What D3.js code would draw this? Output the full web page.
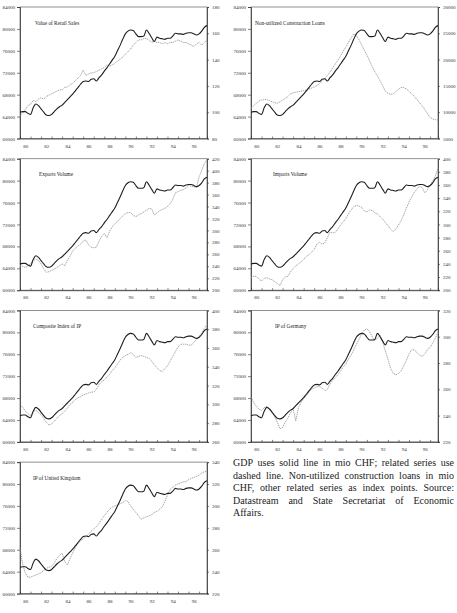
<!DOCTYPE html>
<html>
<head>
<meta charset="utf-8">
<script src="https://cdn.jsdelivr.net/npm/d3@7"></script>
<style>
  body { margin: 0; background: #fff; }
  svg text { font-family: "Liberation Serif", "Times New Roman", serif; fill: #222; }
</style>
</head>
<body>
<div id="chart"></div>
<script>
// DATA
// ---------------------------------------------------------------------------------------------------------------------------------
const quarters = d3.range(1980, 1998, 0.25);           // 1980Q1 .. 1997Q4
const yearTicks = d3.range(1981, 1998);
const yearLabels = [1980, 1982, 1984, 1986, 1988, 1990, 1992, 1994, 1996];
const gdpTicks = [60000, 64000, 68000, 72000, 76000, 80000, 84000];

// GDP in mio CHF (solid line, same in every panel)
const gdp = [64800, 64900, 64900, 64600, 64400, 65600, 66300, 66000, 65400, 64800, 64300, 64200,
  64400, 64900, 65400, 65800, 66100, 66600, 67100, 67600, 68100, 68700, 69300, 69900,
  70400, 70500, 70400, 70800, 70900, 70500, 71100, 71600, 72300, 72900, 73600, 74300,
  75000, 76000, 77000, 78100, 79100, 79600, 79800, 79700, 79100, 78600, 78600, 78700,
  79800, 79200, 78400, 77700, 78500, 78300, 78200, 78100, 78300, 78300, 78700, 79200,
  79100, 79100, 79000, 79200, 79300, 79300, 79100, 78900, 79100, 79600, 80300, 80600];

const retailSales = [97, 99, 102, 105, 106, 109, 108, 110, 111, 110, 112, 113,
  114, 115, 116, 117, 117, 119, 119, 121, 122, 124, 126, 128,
  132, 128, 129, 130, 130, 131, 132, 133, 134, 136, 135, 136,
  137, 139, 140, 142, 144, 146, 148, 151, 153, 155, 155, 156,
  156, 155, 153, 154, 153, 153, 152, 153, 152, 153, 153, 154,
  155, 154, 153, 153, 152, 151, 150, 152, 153, 151, 153, 155];

const constructionLoans = [10800, 11200, 11700, 12100, 12300, 12400, 12400, 12200, 12000, 11800, 11700, 12000,
  12300, 12600, 13000, 13500, 13700, 13800, 13900, 14000, 14100, 14200, 14400, 14600,
  14800, 15100, 15400, 15900, 16400, 17000, 17600, 18400, 19200, 19900, 20700, 21600,
  22400, 23300, 24100, 24900, 24500, 23800, 22800, 21800, 20900, 19800, 18700, 17700,
  16900, 16000, 15000, 14000, 13600, 13400, 13500, 13900, 14400, 14700, 14700, 14400,
  14000, 13500, 13000, 12400, 11800, 11200, 10500, 9700, 9000, 8700, 8600, 8500];

const exportsVolume = [241, 240, 238, 240, 245, 249, 252, 250, 244, 236, 230, 231,
  233, 235, 238, 241, 244, 241, 250, 257, 266, 270, 274, 277,
  282, 284, 276, 272, 271, 272, 282, 290, 295, 288, 298, 306,
  311, 315, 320, 324, 328, 330, 330, 325, 323, 326, 328, 331,
  334, 337, 336, 326, 329, 333, 335, 337, 340, 345, 352, 363,
  365, 367, 368, 371, 375, 374, 373, 372, 390, 400, 412, 418];

const importsVolume = [219, 221, 221, 217, 214, 218, 219, 217, 216, 213, 210, 207,
  216, 220, 221, 228, 233, 237, 240, 243, 247, 251, 254, 258,
  262, 270, 273, 270, 272, 280, 288, 287, 288, 293, 299, 304,
  309, 316, 322, 327, 329, 328, 326, 321, 319, 322, 321, 318,
  316, 312, 308, 303, 298, 293, 289, 293, 299, 306, 315, 325,
  334, 342, 349, 354, 358, 356, 348, 353, 360, 366, 374, 385];

const ipComposite = [300, 297, 293, 290, 288, 292, 294, 291, 289, 285, 281, 278,
  279, 282, 285, 288, 290, 293, 296, 300, 302, 305, 307, 308,
  310, 311, 312, 313, 313, 316, 321, 324, 326, 329, 332, 336,
  339, 343, 347, 350, 352, 353, 355, 353, 350, 351, 352, 351,
  350, 349, 346, 342, 339, 336, 335, 338, 341, 346, 351, 356,
  361, 364, 364, 364, 363, 363, 366, 369, 372, 376, 381, 385];

const ipGermany = [254, 250, 247, 245, 244, 246, 247, 245, 243, 239, 235, 230,
  231, 235, 238, 242, 245, 236, 246, 250, 253, 255, 258, 260,
  261, 262, 262, 261, 259, 260, 264, 267, 269, 271, 274, 277,
  279, 283, 286, 290, 294, 298, 302, 305, 306, 304, 300, 297,
  299, 301, 296, 289, 283, 276, 272, 271, 272, 274, 278, 282,
  287, 290, 290, 288, 286, 285, 287, 290, 292, 295, 299, 303];

const ipUK = [262, 247, 239, 235, 235, 236, 237, 238, 239, 241, 243, 244,
  245, 248, 252, 255, 257, 249, 246, 252, 257, 262, 266, 268,
  270, 272, 274, 277, 279, 281, 284, 288, 291, 294, 297, 299,
  300, 301, 302, 303, 305, 304, 300, 297, 294, 291, 288, 289,
  290, 291, 292, 294, 295, 297, 299, 304, 310, 315, 317, 319,
  320, 321, 322, 322, 324, 325, 326, 327, 328, 330, 331, 332];

const retailTicks = [80, 100, 120, 140, 160, 180];
const loansTicks = [5000, 10000, 15000, 20000, 25000, 30000];
const exportsTicks = [200, 220, 240, 260, 280, 300, 320, 340, 360, 380, 400, 420];
const importsTicks = [200, 220, 240, 260, 280, 300, 320, 340, 360, 380, 400];
const compositeTicks = [260, 280, 300, 320, 340, 360, 380, 400];
const germanyTicks = [220, 240, 260, 280, 300, 320];
const ukTicks = [220, 240, 260, 280, 300, 320, 340];

const titles = ["Value of Retail Sales", "Non-utilized Construction Loans", "Exports Volume",
  "Imports Volume", "Composite Index of IP", "IP of Germany", "IP of United Kingdom"];
const relatedSeries = [retailSales, constructionLoans, exportsVolume, importsVolume, ipComposite, ipGermany, ipUK];
const rightTicks = [retailTicks, loansTicks, exportsTicks, importsTicks, compositeTicks, germanyTicks, ukTicks];

const noteLines = ["GDP uses solid line in mio CHF; related series use",
  "dashed line. Non-utilized construction loans in mio",
  "CHF, other related series as index points. Source:",
  "Datastream and State Secretariat of Economic",
  "Affairs."];

// LAYOUT
// ---------------------------------------------------------------------------------------------------------------------------------
const width = 457, height = 613;
const colX = [20, 251];
const rowY = [7, 158.7, 310.4, 462.1];
const plotW = 187, plotH = 131.5;
const titlePos = [[15, 17.5], [4, 17.5], [19, 17.5], [22, 17.5], [13, 17.5], [24, 17.5], [13, 17.5]];

const svg = d3.select("#chart")
  .append("svg")
  .attr("width", width)
  .attr("height", height);

svg.append("rect").attr("width", width).attr("height", height).attr("fill", "#fff");

// DRAW PANELS
// ---------------------------------------------------------------------------------------------------------------------------------
titles.forEach(function (title, i) {
  const g = svg.append("g")
    .attr("transform", `translate(${colX[i % 2]},${rowY[Math.floor(i / 2)]})`);

  const ticks = rightTicks[i];
  const x = d3.scaleLinear([1980, 1997.75], [0, plotW]);
  const yL = d3.scaleLinear([60000, 84000], [plotH, 0]);
  const yR = d3.scaleLinear([ticks[0], ticks[ticks.length - 1]], [plotH, 0]);

  // frame
  g.append("rect")
    .attr("width", plotW)
    .attr("height", plotH)
    .attr("fill", "none")
    .attr("stroke", "#777")
    .attr("stroke-width", 0.8);

  // left axis
  const ax1 = g.append("g")
    .call(d3.axisLeft(yL).tickValues(gdpTicks).tickSize(3).tickPadding(2).tickFormat(d3.format("d")));

  // right axis
  const ax2 = g.append("g")
    .attr("transform", `translate(${plotW},0)`)
    .call(d3.axisRight(yR).tickValues(ticks).tickSize(2).tickPadding(3).tickFormat(d3.format("d")));

  // bottom axis: year ticks, labels in the middle of each category
  const ax3 = g.append("g")
    .attr("transform", `translate(0,${plotH})`)
    .call(d3.axisBottom(x).tickValues(yearTicks).tickSize(-2).tickFormat(""));

  const ax4 = g.append("g")
    .attr("transform", `translate(0,${plotH})`)
    .call(d3.axisBottom(x).tickValues(yearLabels.map(d => d + 0.5)).tickSize(0).tickPadding(5.5)
      .tickFormat(d => String(Math.floor(d)).slice(2)));
  ax4.select(".domain").remove();

  [ax1, ax2, ax3, ax4].forEach(function (a) {
    a.selectAll("text").attr("font-size", 5).attr("font-family", null).style("fill", "#333");
    a.selectAll("line").attr("stroke", "#333").attr("stroke-width", 0.6);
    a.select(".domain").attr("stroke", "#333").attr("stroke-width", 0.8);
  });

  // related series (dashed)
  const series = relatedSeries[i];
  g.append("path")
    .datum(series)
    .attr("fill", "none")
    .attr("stroke", "#8c8c8c")
    .attr("stroke-width", 0.8)
    .attr("stroke-dasharray", "1.3,0.8")
    .attr("d", d3.line().x((d, j) => x(quarters[j])).y(d => yR(d)));

  // GDP (solid)
  g.append("path")
    .datum(gdp)
    .attr("fill", "none")
    .attr("stroke", "#1e1e1e")
    .attr("stroke-width", 1.1)
    .attr("d", d3.line().curve(d3.curveMonotoneX).x((d, j) => x(quarters[j])).y(d => yL(d)));

  // panel title
  g.append("text")
    .attr("x", titlePos[i][0])
    .attr("y", titlePos[i][1])
    .attr("font-size", 5.3)
    .text(title);
});

// NOTE TEXT (justified, bottom right cell)
// ---------------------------------------------------------------------------------------------------------------------------------
const noteX = 233, noteW = 221, noteY = 466, lineH = 12.5;
const note = svg.append("g").attr("font-size", 10);

noteLines.forEach(function (line, i) {
  const words = line.split(" ");
  const y = noteY + i * lineH;
  const nodes = words.map(w => note.append("text").attr("y", y).text(w));
  const widths = nodes.map(n => n.node().getComputedTextLength());
  const total = d3.sum(widths);
  const last = i === noteLines.length - 1;
  const gap = last || words.length < 2 ? 2.5 : (noteW - total) / (words.length - 1);
  let cx = noteX;
  nodes.forEach(function (n, j) {
    n.attr("x", cx);
    cx += widths[j] + gap;
  });
});
</script>
</body>
</html>
